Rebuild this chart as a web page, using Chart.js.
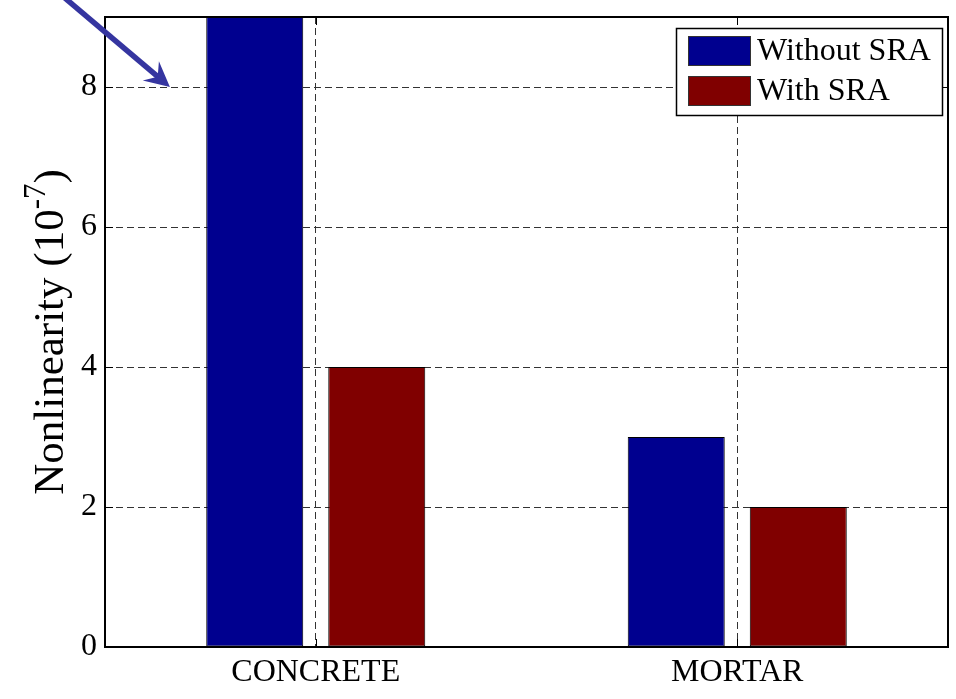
<!DOCTYPE html>
<html>
<head>
<meta charset="utf-8">
<script src="https://cdn.jsdelivr.net/npm/chart.js@4/dist/chart.umd.min.js"></script>
<style>
  html, body { margin: 0; padding: 0; background: #ffffff; }
  #wrap { width: 956px; height: 699px; position: relative; }
</style>
</head>
<body>
<div id="wrap"><canvas id="c" width="956" height="699"></canvas></div>
<script>
// Sample types along the x axis
const categories = ['CONCRETE', 'MORTAR'];

// Nonlinearity in units of 1e-7
const withoutSRA = [9, 3];
const withSRA = [4, 2];

// Tick values shown on the y axis
const yTicks = [0, 2, 4, 6, 8];

const seriesNames = ['Without SRA', 'With SRA'];
const seriesColors = ['#00008f', '#800000'];

// Arrow marking the off-scale bar, in data coordinates (category index, value)
const arrowTip = { x: -0.346, y: 8 };
const arrowTail = { x: -0.64, y: 9.5 };

const FONT = '"Liberation Serif", "Times New Roman", serif';

const framePlugin = {
  id: 'frame',
  afterDatasetsDraw(chart) {
    const { ctx, chartArea: a, scales } = chart;
    const xs = scales.x, ys = scales.y;
    ctx.save();
    // inward tick marks on all four sides
    ctx.strokeStyle = '#000';
    ctx.lineWidth = 1;
    const tl = 8;
    yTicks.forEach(v => {
      const y = Math.round(ys.getPixelForValue(v)) + 0.5;
      ctx.beginPath();
      ctx.moveTo(a.left, y); ctx.lineTo(a.left + tl, y);
      ctx.moveTo(a.right, y); ctx.lineTo(a.right - tl, y);
      ctx.stroke();
    });
    categories.forEach((c, i) => {
      const x = Math.round(xs.getPixelForValue(i)) + 0.5;
      ctx.beginPath();
      ctx.moveTo(x, a.top); ctx.lineTo(x, a.top + tl);
      ctx.moveTo(x, a.bottom); ctx.lineTo(x, a.bottom - tl);
      ctx.stroke();
    });
    // axes box
    ctx.lineWidth = 2;
    ctx.strokeRect(a.left, a.top, a.right - a.left, a.bottom - a.top);

    // legend in the upper right corner of the axes
    const lx = 676, ly = a.top + 11, lw = 266, lh = 87;
    ctx.fillStyle = '#fff';
    ctx.fillRect(lx, ly, lw, lh);
    ctx.lineWidth = 1.5;
    ctx.strokeStyle = '#000';
    ctx.strokeRect(lx + 0.5, ly + 0.5, lw, lh);
    chart.data.datasets.forEach((ds, i) => {
      const sy = ly + 8 + i * 40;
      ctx.fillStyle = ds.backgroundColor;
      ctx.fillRect(lx + 12, sy, 62, 29);
      ctx.lineWidth = 1;
      ctx.strokeStyle = '#333';
      ctx.strokeRect(lx + 12.5, sy + 0.5, 62, 29);
      ctx.fillStyle = '#000';
      ctx.font = '32px ' + FONT;
      ctx.textBaseline = 'middle';
      ctx.textAlign = 'left';
      ctx.fillText(ds.label, lx + 81, sy + 16);
    });

    // y axis title with superscript exponent
    ctx.translate(63, (a.top + a.bottom) / 2);
    ctx.rotate(-Math.PI / 2);
    ctx.fillStyle = '#000';
    ctx.textBaseline = 'alphabetic';
    ctx.textAlign = 'left';
    const big = '43px ' + FONT, small = '31px ' + FONT;
    const p1 = 'Nonlinearity (10', p2 = '-7', p3 = ')';
    ctx.font = big; const w1 = ctx.measureText(p1).width, w3 = ctx.measureText(p3).width;
    ctx.font = small; const w2 = ctx.measureText(p2).width;
    let x0 = -(w1 + w2 + w3) / 2;
    ctx.font = big; ctx.fillText(p1, x0, 0);
    ctx.font = small; ctx.fillText(p2, x0 + w1, -18);
    ctx.font = big; ctx.fillText(p3, x0 + w1 + w2, 0);
    ctx.restore();

    // arrow pointing at the clipped bar
    ctx.save();
    const tx = xs.getPixelForValue(arrowTip.x), ty = ys.getPixelForValue(arrowTip.y);
    const sx = xs.getPixelForValue(arrowTail.x), sy2 = ys.getPixelForValue(arrowTail.y);
    const dx = tx - sx, dy = ty - sy2, len = Math.hypot(dx, dy);
    const ux = dx / len, uy = dy / len, px = -uy, py = ux;
    const col = '#3535a0';
    ctx.strokeStyle = col;
    ctx.fillStyle = col;
    ctx.lineWidth = 5.5;
    ctx.beginPath();
    ctx.moveTo(sx, sy2);
    ctx.lineTo(tx - ux * 14, ty - uy * 14);
    ctx.stroke();
    const L = 25, W = 12.5, N = 16;
    ctx.beginPath();
    ctx.moveTo(tx, ty);
    ctx.lineTo(tx - ux * L + px * W, ty - uy * L + py * W);
    ctx.lineTo(tx - ux * N, ty - uy * N);
    ctx.lineTo(tx - ux * L - px * W, ty - uy * L - py * W);
    ctx.closePath();
    ctx.fill();
    ctx.restore();
  }
};

new Chart(document.getElementById('c'), {
  type: 'bar',
  data: {
    labels: categories,
    datasets: [
      { label: seriesNames[0], data: withoutSRA, backgroundColor: seriesColors[0] },
      { label: seriesNames[1], data: withSRA, backgroundColor: seriesColors[1] }
    ]
  },
  options: {
    responsive: false,
    animation: false,
    devicePixelRatio: 1,
    layout: { padding: { top: 17, right: 8, left: 0, bottom: 0 } },
    datasets: {
      bar: {
        categoryPercentage: 0.579,
        barPercentage: 0.795,
        borderColor: '#000',
        borderWidth: 1,
        borderSkipped: false
      }
    },
    plugins: {
      legend: { display: false },
      tooltip: { enabled: false }
    },
    scales: {
      x: {
        offset: true,
        grid: {
          offset: false,
          color: '#333',
          lineWidth: 1,
          drawTicks: false
        },
        border: { display: false, dash: [7, 4] },
        ticks: { color: '#000', font: { family: FONT, size: 32 }, padding: 6, maxRotation: 0 },
        afterFit(s) { s.height = 52; }
      },
      y: {
        min: 0,
        max: 9,
        afterBuildTicks(s) { s.ticks = yTicks.map(v => ({ value: v })); },
        grid: { color: '#333', lineWidth: 1, drawTicks: false },
        border: { display: false, dash: [7, 4] },
        ticks: { color: '#000', font: { family: FONT, size: 32 }, padding: 8 },
        afterFit(s) { s.width = 105; s.paddingTop = 0; s.paddingBottom = 0; }
      }
    }
  },
  plugins: [framePlugin]
});
</script>
</body>
</html>
